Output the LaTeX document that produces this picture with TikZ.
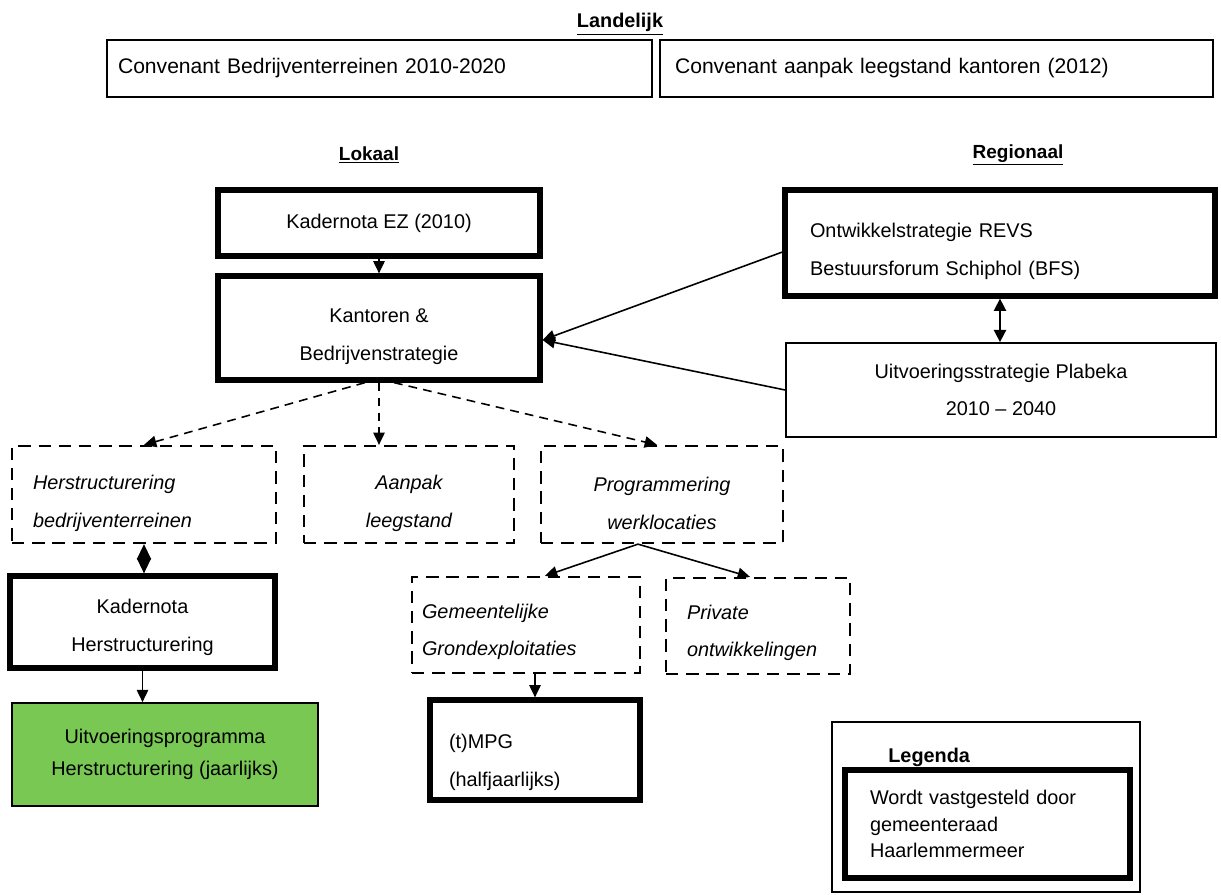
\documentclass[tikz,border=0pt]{standalone}
\usepackage{fontspec}
\setmainfont{Liberation Sans}
\usetikzlibrary{arrows.meta,calc}
\definecolor{grn}{RGB}{122,200,84}
\newcommand\dn[1]{\rule{0pt}{#1}}
\tikzset{
 base/.style={draw=black, inner sep=0pt, font=\fontsize{11.3}{21.5}\selectfont, text=black},
 thickbox/.style={base, line width=3pt},
 thinbox/.style={base, line width=1pt},
 dashbox/.style={base, line width=1.3pt, dash pattern=on 7pt off 4.5pt, font=\fontsize{11.3}{21.5}\selectfont\itshape},
 titlelbl/.style={inner sep=0pt, font=\fontsize{10.8}{12}\selectfont\bfseries},
 arr/.style={line width=0.9pt, -{Triangle[length=7pt,width=6.5pt]}},
 darr/.style={arr, dash pattern=on 5pt off 3.5pt},
 diam/.style={line width=0.9pt, {Triangle[length=8.6pt,width=8pt]}-{Triangle[length=8.6pt,width=8pt]}},
 dbl/.style={line width=0.9pt, {Triangle[length=7pt,width=7pt]}-{Triangle[length=7pt,width=7pt]}},
}
\begin{document}
\begin{tikzpicture}[x=0.02cm,y=-0.02cm]
\useasboundingbox[fill=white] (0,0) rectangle (1221,894);

% titles
\node[titlelbl, font=\fontsize{11.3}{13}\selectfont\bfseries] (tland) at (620,24) {\underline{Landelijk}};
\node[titlelbl] (tlok) at (369,155) {\underline{Lokaal}};
\node[titlelbl] (treg) at (1018,155) {\underline{Regionaal}};

% national
\node[thinbox, font=\fontsize{12}{14}\selectfont, minimum width=10.9cm, minimum height=1.14cm, text width=10.46cm, inner xsep=0.22cm, align=left] (conv1) at (379.5,68.5) {Convenant Bedrijventerreinen 2010-2020};
\node[thinbox, font=\fontsize{12}{14}\selectfont, minimum width=11.06cm, minimum height=1.14cm, text width=10.46cm, inner xsep=0.3cm, align=left] (conv2) at (936.5,68.5) {Convenant aanpak leegstand kantoren (2012)};

% local
\node[thickbox, minimum width=6.44cm, minimum height=1.32cm, align=center] (ez) at (379,223) {Kadernota EZ (2010)};
\node[thickbox, minimum width=6.44cm, minimum height=2.08cm, align=center] (kant) at (379,328) {\dn{18pt}Kantoren \&\\Bedrijvenstrategie};

% regional
\node[thickbox, minimum width=8.6cm, minimum height=2.12cm, text width=7.6cm, inner xsep=0.5cm, align=left] (ontw) at (1000,243) {\dn{18pt}Ontwikkelstrategie REVS\\Bestuursforum Schiphol (BFS)};
\node[thinbox, minimum width=8.6cm, minimum height=1.88cm, align=center] (plab) at (1001,390) {Uitvoeringsstrategie Plabeka\\2010 -- 2040};

% dashed row
\node[dashbox, minimum width=5.28cm, minimum height=1.94cm, text width=4.44cm, inner xsep=0.42cm, align=left] (herstr) at (144,494.5) {\dn{18pt}Herstructurering\\bedrijventerreinen};
\node[dashbox, minimum width=4.2cm, minimum height=1.94cm, align=center] (aanp) at (409,494.5) {\dn{18pt}Aanpak\\leegstand};
\node[dashbox, minimum width=4.84cm, minimum height=1.94cm, align=center] (prog) at (662,494.5) {\dn{18pt}Programmering\\werklocaties};

% lower left
\node[thickbox, minimum width=5.3cm, minimum height=1.84cm, align=center] (kh) at (142.5,622) {\dn{14pt}Kadernota\\Herstructurering};
\node[thinbox, fill=grn, font=\fontsize{11.3}{18}\selectfont, minimum width=6.12cm, minimum height=2.06cm, align=center] (green) at (165,754.5) {Uitvoeringsprogramma\\Herstructurering (jaarlijks)};

% lower middle
\node[dashbox, minimum width=4.56cm, minimum height=1.92cm, text width=4.16cm, inner xsep=0.2cm, align=left] (gem) at (526,625) {\dn{16pt}Gemeentelijke\\Grondexploitaties};
\node[dashbox, minimum width=3.68cm, minimum height=1.92cm, text width=2.84cm, inner xsep=0.42cm, align=left] (priv) at (758,626) {\dn{16pt}Private\\ontwikkelingen};
\node[thickbox, minimum width=4.2cm, minimum height=2cm, text width=3.44cm, inner xsep=0.38cm, align=left] (mpg) at (535,750) {\dn{22pt}(t)MPG\\(halfjaarlijks)};

% legend
\node[thinbox, minimum width=6.16cm, minimum height=3.4cm] (legout) at (986,807) {};
\node[titlelbl, font=\fontsize{11.3}{13}\selectfont\bfseries, anchor=west] (legtitle) at (888,757) {Legenda};
\node[thickbox, font=\fontsize{11.3}{15}\selectfont, minimum width=5.7cm, minimum height=2.16cm, text width=4.7cm, inner xsep=0.5cm, align=left] (legin) at (987.5,824) {Wordt vastgesteld door\\gemeenteraad\\Haarlemmermeer};

% connectors
\draw[arr] (ez.south) -- (kant.north);
\draw[arr] ([yshift=-0.18cm]ontw.west) -- ([yshift=-0.24cm]kant.east);
\draw[arr] (plab.west) -- ([yshift=-0.24cm]kant.east);
\draw[dbl] (ontw.south) -- (ontw.south |- plab.north);

\draw[darr] ([xshift=-0.28cm]kant.south) -- (herstr.north);
\draw[darr] (kant.south) -- (kant.south |- aanp.north);
\draw[darr] ([xshift=0.3cm]kant.south) -- ([xshift=-0.1cm]prog.north);

\draw[diam] (herstr.south) -- (herstr.south |- kh.north);
\draw[arr] (kh.south) -- (kh.south |- green.north);

\draw[arr] ([xshift=-0.48cm]prog.south) -- ([xshift=0.38cm]gem.north);
\draw[arr] ([xshift=-0.48cm]prog.south) -- ([xshift=-0.16cm]priv.north);
\draw[arr] (mpg.north |- gem.south) -- (mpg.north);
\end{tikzpicture}
\end{document}
